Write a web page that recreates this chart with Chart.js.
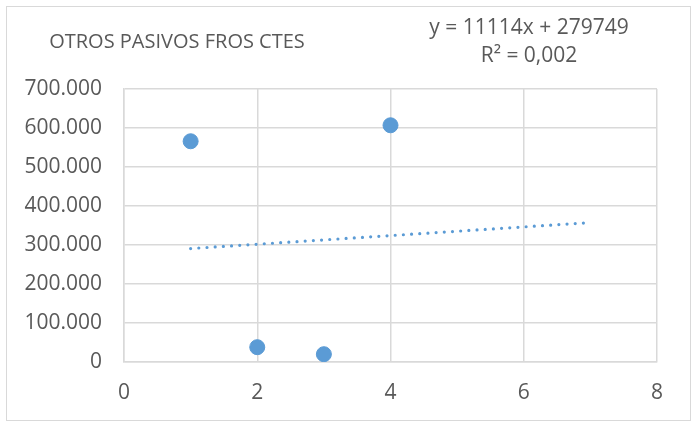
<!DOCTYPE html>
<html>
<head>
<meta charset="utf-8">
<script src="https://cdn.jsdelivr.net/npm/chart.js@4/dist/chart.umd.min.js"></script>
<style>
  html, body { margin: 0; padding: 0; background: #fff; }
  #wrap { width: 697px; height: 424px; }
</style>
</head>
<body>
<div id="wrap"><canvas id="scatterChart" width="697" height="424"></canvas></div>
<script>
// datos
var xValues = [1, 2, 3, 4];
var yValues = [566000, 38000, 20000, 607000];
// linea de tendencia (inicio y fin)
var trendX = [1, 7];
var trendY = [290900, 357500];
var xTicks = [0, 2, 4, 6, 8];
var yTicks = [0, 100000, 200000, 300000, 400000, 500000, 600000, 700000];

var chartTitle = 'OTROS PASIVOS FROS CTES';
var trendLabel = ['y = 11114x + 279749', 'R² = 0,002'];

var FONT = '"Open Sans", sans-serif';

function fmt(v) {
	return String(v).replace(/\B(?=(\d{3})+(?!\d))/g, '.');
}

var frame = {
	id: 'frame',
	beforeDraw: function (chart) {
		var c = chart.ctx;
		c.save();
		c.fillStyle = '#ffffff';
		c.fillRect(0, 0, chart.width, chart.height);
		c.strokeStyle = '#d9d9d9';
		c.lineWidth = 1;
		c.strokeRect(6.5, 6.5, 684, 414);
		c.restore();
	},
	afterDraw: function (chart) {
		var c = chart.ctx;
		c.save();
		c.fillStyle = '#595959';
		c.textAlign = 'center';
		c.textBaseline = 'middle';
		c.font = '20px ' + FONT;
		c.fillText(chartTitle, 177, 42);
		c.font = '21px ' + FONT;
		c.fillText(trendLabel[0], 529, 28);
		c.fillText(trendLabel[1], 529, 56);
		c.restore();
	}
};

var ctx = document.getElementById('scatterChart').getContext('2d');
var myChart = new Chart(ctx, {
	type : 'scatter',
	data : {
		datasets : [ {
			label : 'Otros pasivos',
			data : xValues.map(function (x, i) { return { x : x, y : yValues[i] }; }),
			backgroundColor : '#5b9bd5',
			borderColor : '#5b9bd5',
			pointRadius : 7.5,
			pointHoverRadius : 7.5,
			order : 1
		}, {
			label : 'Tendencia',
			type : 'line',
			data : trendX.map(function (x, i) { return { x : x, y : trendY[i] }; }),
			borderColor : '#5b9bd5',
			borderWidth : 3.2,
			borderDash : [ 0, 8.2 ],
			borderCapStyle : 'round',
			pointRadius : 0,
			fill : false,
			order : 2
		} ]
	},
	options : {
		responsive : false,
		animation : false,
		layout : {
			padding : { left : 0, top : 89, right : 40, bottom : 0 }
		},
		plugins : {
			legend : { display : false },
			tooltip : { enabled : false }
		},
		scales : {
			x : {
				type : 'linear',
				min : 0,
				max : 8,
				afterBuildTicks : function (axis) {
					axis.ticks = xTicks.map(function (v) { return { value : v }; });
				},
				afterFit : function (axis) { axis.height = 62; },
				grid : { color : '#d9d9d9', lineWidth : 1.5, drawTicks : false },
				border : { color : '#d9d9d9', width : 1.5 },
				ticks : {
					padding : 18,
					color : '#595959',
					font : { family : FONT, size : 21 }
				}
			},
			y : {
				min : 0,
				max : 700000,
				afterBuildTicks : function (axis) {
					axis.ticks = yTicks.map(function (v) { return { value : v }; });
				},
				afterFit : function (axis) { axis.width = 124; },
				grid : { color : '#d9d9d9', lineWidth : 1.5, drawTicks : false },
				border : { color : '#d9d9d9', width : 1.5 },
				ticks : {
					padding : 22,
					color : '#595959',
					font : { family : FONT, size : 21 },
					callback : function (v) { return fmt(v); }
				}
			}
		}
	},
	plugins : [ frame ]
});
</script>
</body>
</html>
